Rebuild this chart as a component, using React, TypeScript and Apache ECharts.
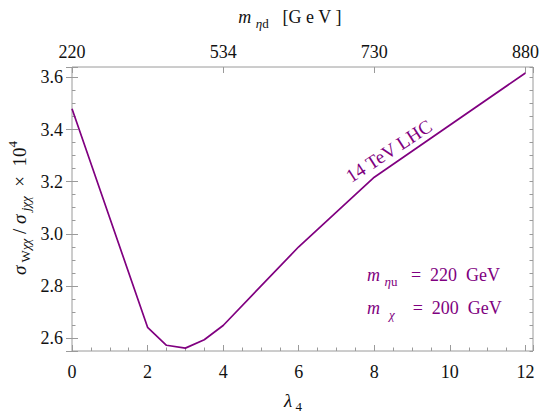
import React, { useEffect, useRef } from "react";
import * as echarts from "echarts";

// Data
const lambda4 = [0, 2, 2.5, 3, 3.5, 4, 6, 8, 12];
const ratio = [3.48, 2.641, 2.572, 2.561, 2.593, 2.648, 2.95, 3.217, 3.617];
const bottomTicks = [0, 2, 4, 6, 8, 10, 12];
const topTickPositions = [0, 4, 8, 12];
const topTickLabels = ["220", "534", "730", "880"];
const yTickLabels = ["2.6", "2.8", "3.0", "3.2", "3.4", "3.6"];

const FONT = "Liberation Serif";
const PURPLE = "#800080";
const FRAME = "#9a9a9a";
const LABEL = "#111";

const X_MIN = 0;
const X_MAX = 12.2;
const Y_MIN = 2.55;
const Y_MAX = 3.64;

const near = (a: number, b: number) => Math.abs(a - b) < 1e-6;

function richStyles(size: number, fill: string, sub = 13) {
  return {
    n: { fontFamily: FONT, fontSize: size, lineHeight: 26, fill, color: fill },
    i: { fontFamily: FONT, fontSize: size, fontStyle: "italic", lineHeight: 26, fill, color: fill },
    s: { fontFamily: FONT, fontSize: sub, lineHeight: 13, verticalAlign: "bottom", fill, color: fill },
    si: { fontFamily: FONT, fontSize: sub, fontStyle: "italic", lineHeight: 13, verticalAlign: "bottom", fill, color: fill },
    sup: { fontFamily: FONT, fontSize: sub, lineHeight: 13, verticalAlign: "top", fill, color: fill },
  };
}

export default function App() {
  const ref = useRef<HTMLDivElement>(null);

  useEffect(() => {
    document.body.style.margin = "0";
    const chart = echarts.init(ref.current!, null, { renderer: "svg" });

    const tickLabelStyle = { fontFamily: FONT, fontSize: 18, color: LABEL };

    const xBase = {
      type: "value" as const,
      min: X_MIN,
      max: X_MAX,
      axisLine: { show: false },
      splitLine: { show: false },
    };
    const yBase = {
      type: "value" as const,
      min: Y_MIN,
      max: Y_MAX,
      axisLine: { show: false },
      splitLine: { show: false },
    };

    const option: any = {
      animation: false,
      textStyle: { fontFamily: FONT },
      grid: {
        left: 72,
        right: 12,
        top: 67,
        bottom: 65,
        show: true,
        borderColor: FRAME,
        borderWidth: 1,
        backgroundColor: "transparent",
        containLabel: false,
        outerBoundsMode: "none",
      },
      xAxis: [
        {
          ...xBase,
          position: "bottom",
          interval: 2,
          axisTick: { inside: true, length: 6, lineStyle: { color: FRAME } },
          axisLabel: {
            ...tickLabelStyle,
            margin: 12,
            formatter: (v: number) =>
              bottomTicks.some((t) => near(t, v)) ? String(Math.round(v)) : "",
          },
        },
        {
          ...xBase,
          position: "bottom",
          interval: 0.5,
          axisTick: { inside: true, length: 3.5, lineStyle: { color: FRAME } },
          axisLabel: { show: false },
        },
        {
          ...xBase,
          position: "top",
          interval: 4,
          axisTick: { inside: true, length: 6, lineStyle: { color: FRAME } },
          axisLabel: {
            ...tickLabelStyle,
            margin: 6,
            formatter: (v: number) => {
              const idx = topTickPositions.findIndex((t) => near(t, v));
              return idx >= 0 ? topTickLabels[idx] : "";
            },
          },
        },
      ],
      yAxis: [
        {
          ...yBase,
          position: "left",
          splitNumber: 5,
          minInterval: 0.2,
          maxInterval: 0.2,
          axisTick: { inside: true, length: 6, lineStyle: { color: FRAME } },
          axisLabel: {
            ...tickLabelStyle,
            margin: 9,
            formatter: (v: number) => {
              const s = v.toFixed(1);
              return yTickLabels.includes(s) && near(parseFloat(s), v) ? s : "";
            },
          },
        },
        {
          ...yBase,
          position: "left",
          interval: 0.05,
          axisTick: { inside: true, length: 3.5, lineStyle: { color: FRAME } },
          axisLabel: { show: false },
        },
        {
          ...yBase,
          position: "right",
          splitNumber: 5,
          minInterval: 0.2,
          maxInterval: 0.2,
          axisTick: { inside: true, length: 6, lineStyle: { color: FRAME } },
          axisLabel: { show: false },
        },
        {
          ...yBase,
          position: "right",
          interval: 0.05,
          axisTick: { inside: true, length: 3.5, lineStyle: { color: FRAME } },
          axisLabel: { show: false },
        },
      ],
      series: [
        {
          type: "line",
          xAxisIndex: 0,
          yAxisIndex: 0,
          data: lambda4.map((x, i) => [x, ratio[i]]),
          showSymbol: false,
          symbol: "none",
          lineStyle: { color: PURPLE, width: 1.7 },
          silent: true,
        },
      ],
      graphic: [
        {
          type: "text",
          x: 290,
          y: 17,
          style: {
            text: "{i|m}{n| }{si|η}{s|d}{n|   [G e V ]}",
            align: "center",
            verticalAlign: "middle",
            fontFamily: FONT,
            rich: richStyles(18, "#111"),
          },
        },
        {
          type: "text",
          x: 293,
          y: 400,
          style: {
            text: "{i|λ}{s| 4}",
            align: "center",
            verticalAlign: "middle",
            fontFamily: FONT,
            rich: richStyles(19, "#111"),
          },
        },
        {
          type: "text",
          x: 19,
          y: 208,
          rotation: Math.PI / 2,
          style: {
            text: "{i|σ}{s| W}{si|χχ}{n| / }{i|σ}{si| jχχ}{n|  ×  10}{sup|4}",
            align: "center",
            verticalAlign: "middle",
            fontFamily: FONT,
            rich: richStyles(19, "#111"),
          },
        },
        {
          type: "text",
          x: 389,
          y: 151,
          rotation: (33 * Math.PI) / 180,
          style: {
            text: "14 TeV LHC",
            align: "center",
            verticalAlign: "middle",
            fontFamily: FONT,
            fontSize: 19,
            fill: PURPLE,
          },
        },
        {
          type: "text",
          x: 367,
          y: 275,
          style: {
            text: "{i|m}{n| }{si|η}{s|u}{n|   =  220  GeV}",
            align: "left",
            verticalAlign: "middle",
            fontFamily: FONT,
            rich: richStyles(18, PURPLE),
          },
        },
        {
          type: "text",
          x: 367,
          y: 308,
          style: {
            text: "{i|m}{n|  }{si|χ}{n|    =  200  GeV}",
            align: "left",
            verticalAlign: "middle",
            fontFamily: FONT,
            rich: richStyles(18, PURPLE),
          },
        },
      ],
    };

    chart.setOption(option);
    return () => chart.dispose();
  }, []);

  return (
    <div
      ref={ref}
      style={{ position: "absolute", left: 0, top: 0, width: 545, height: 416 }}
    />
  );
}
